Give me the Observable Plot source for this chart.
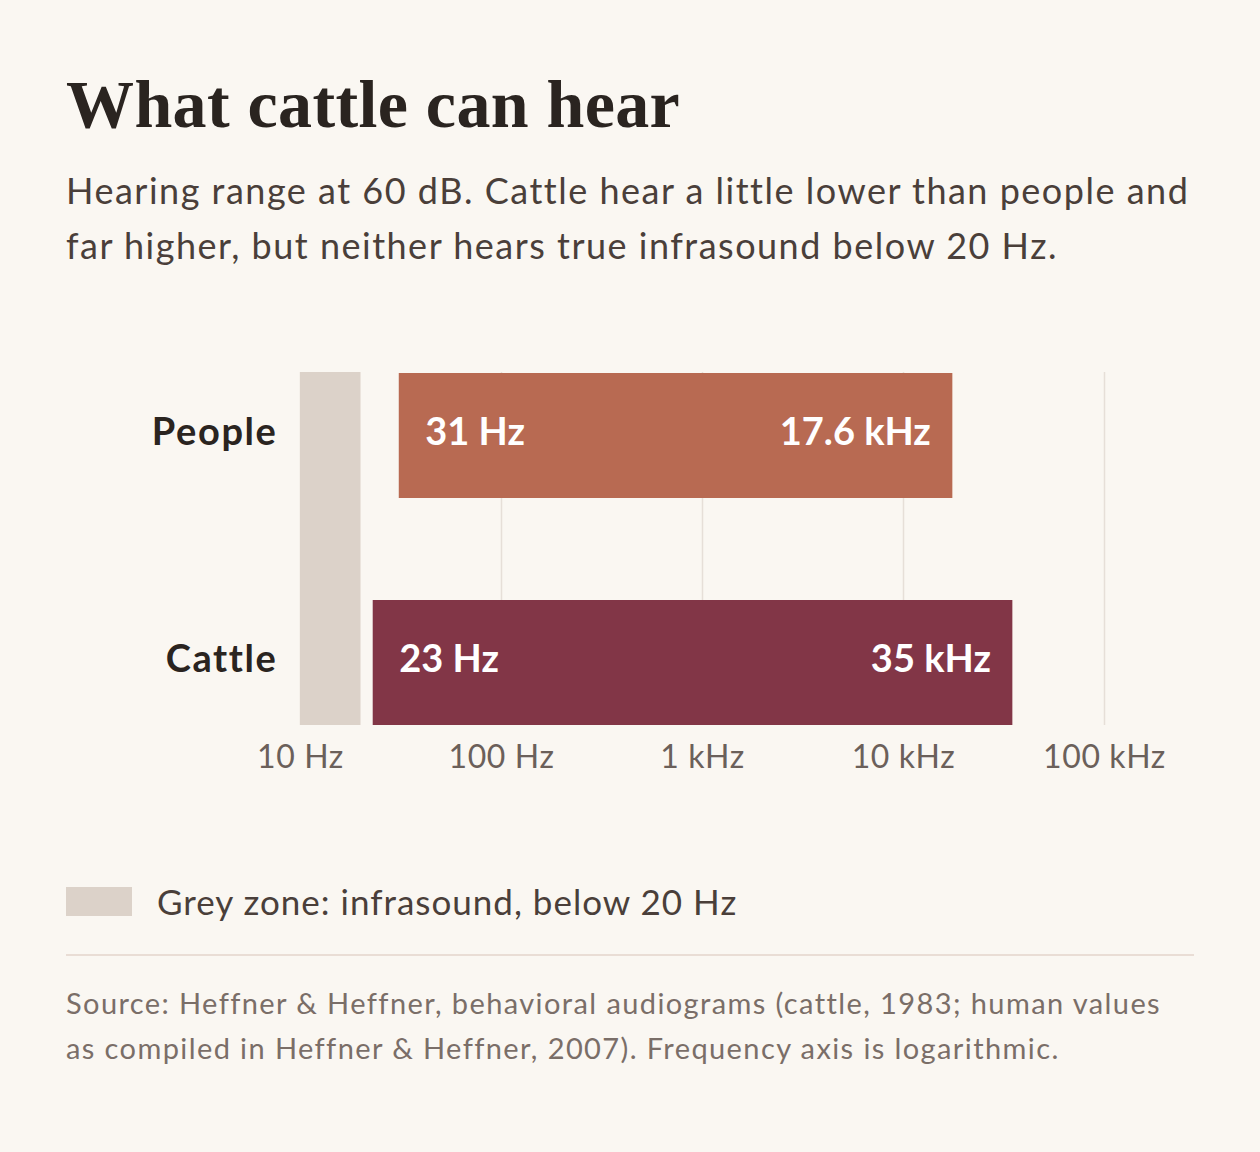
<!DOCTYPE html>
<html>
<head>
<meta charset="utf-8">
<script src="https://cdn.jsdelivr.net/npm/d3@7"></script>
<script src="https://cdn.jsdelivr.net/npm/@observablehq/plot@0.6"></script>
<style>
  html, body { margin: 0; padding: 0; background: #faf7f2; }
  body { width: 1260px; height: 1152px; position: relative; overflow: hidden; font-family: Lato, "Open Sans", sans-serif; }
  .abs { position: absolute; left: 66px; white-space: nowrap; }
  #title { top: 64px; font-family: "Liberation Serif", serif; font-weight: 700; font-size: 68px; line-height: 80px; color: #2a2420; letter-spacing: 0.4px; }
  #subtitle { top: 163px; font-size: 36px; line-height: 55px; color: #4a3f3a; letter-spacing: 1.5px; }
  #chart { position: absolute; left: 0; top: 330px; }
  #legend { top: 880px; display: flex; align-items: center; font-size: 35px; color: #4a3f3a; letter-spacing: 1px; }
  #legend .sw { width: 66px; height: 29px; background: #dcd2c9; margin-right: 25px; }
  #rule { top: 954px; width: 1128px; height: 2px; background: #e9ddd5; }
  #source { top: 980px; font-size: 29px; line-height: 45px; color: #7a6e68; letter-spacing: 1.4px; }
</style>
</head>
<body>
<div id="title" class="abs">What cattle can hear</div>
<div id="subtitle" class="abs">Hearing range at 60 dB. Cattle hear a little lower than people and<br>far higher, but neither hears true infrasound below 20 Hz.</div>
<div id="chart"></div>
<div id="legend" class="abs"><div class="sw"></div><span>Grey zone: infrasound, below 20 Hz</span></div>
<div id="rule" class="abs"></div>
<div id="source" class="abs">Source: Heffner &amp; Heffner, behavioral audiograms (cattle, 1983; human values<br>as compiled in Heffner &amp; Heffner, 2007). Frequency axis is logarithmic.</div>
<script>
// Data
const species = ["People", "Cattle"];
const lowHz = [31, 23];
const highHz = [17600, 35000];
const lowLabels = ["31 Hz", "23 Hz"];
const highLabels = ["17.6 kHz", "35 kHz"];
const barColors = ["#b86a52", "#823647"];
const infraZone = [10, 20];
const tickValues = [10, 100, 1000, 10000, 100000];
const tickLabels = ["10 Hz", "100 Hz", "1 kHz", "10 kHz", "100 kHz"];

const rows = species.map((s, i) => ({ s, lo: lowHz[i], hi: highHz[i], loL: lowLabels[i], hiL: highLabels[i], c: barColors[i] }));
const zone = [{ x1: infraZone[0], x2: infraZone[1] }];

const chart = Plot.plot({
  width: 1260,
  height: 465,
  marginLeft: 300,
  marginRight: 156,
  marginTop: 42,
  marginBottom: 70,
  style: { background: "transparent", fontFamily: "Lato, sans-serif", overflow: "visible" },
  x: { type: "log", domain: [10, 100000], axis: null },
  y: { domain: species, paddingInner: 0.45, paddingOuter: 0, axis: null },
  marks: [
    Plot.ruleX(tickValues, { stroke: "#e6dfd8", strokeWidth: 1.5 }),
    Plot.rect(zone, { x1: "x1", x2: "x2", fill: "#dcd2c9" }),
    Plot.barX(rows, { x1: "lo", x2: "hi", y: "s", fill: "c" }),
    Plot.text(rows, { x: "lo", y: "s", text: "loL", textAnchor: "start", dx: 26, dy: -3, fill: "white", fontSize: 38, fontWeight: 700, style: "letter-spacing:1.4px" }),
    Plot.text(rows, { x: "hi", y: "s", text: "hiL", textAnchor: "end", dx: -22, dy: -3, fill: "white", fontSize: 38, fontWeight: 700, style: "letter-spacing:1.4px" }),
    Plot.axisY({ tickSize: 0, tickPadding: 23, fontSize: 38, fontWeight: 700, color: "#2a2420", label: null, dy: -3 }),
    Plot.axisX({ ticks: tickValues, tickFormat: (d) => tickLabels[tickValues.indexOf(d)], tickSize: 0, tickPadding: 20, fontSize: 32, color: "#6b605a", label: null })
  ]
});
chart.querySelectorAll("g[aria-label='x-axis tick label'] text").forEach(t => t.style.letterSpacing = "0.6px");
chart.querySelectorAll("g[aria-label='y-axis tick label'] text").forEach(t => t.style.letterSpacing = "1.6px");
document.getElementById("chart").appendChild(chart);
</script>
</body>
</html>
